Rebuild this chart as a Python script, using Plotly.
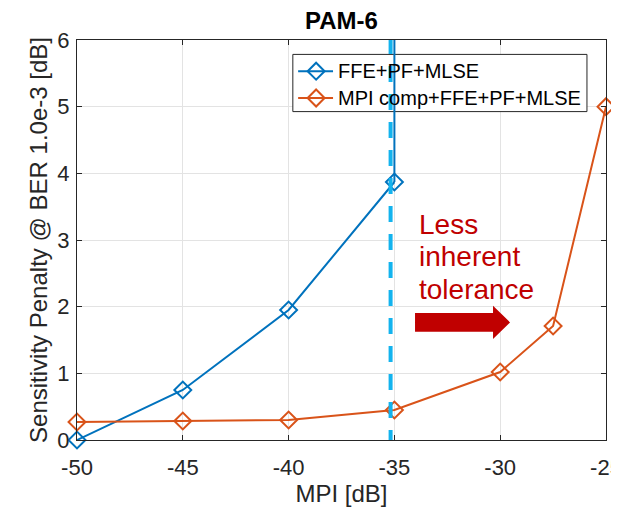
import plotly.graph_objects as go

# ---------------- data ----------------
X_TICKS = [-50, -45, -40, -35, -30, -25]
X_TICK_TEXT = ["-50", "-45", "-40", "-35", "-30", "-25"]
Y_TICKS = [0, 1, 2, 3, 4, 5, 6]
Y_TICK_TEXT = ["0", "1", "2", "3", "4", "5", "6"]

SERIES_NAMES = ["FFE+PF+MLSE", "MPI comp+FFE+PF+MLSE"]
MPI_FFE = [-50, -45, -40, -35]
PEN_FFE = [0.0, 0.75, 1.95, 3.87]
MPI_COMP = [-50, -45, -40, -35, -30, -27.5, -25]
PEN_COMP = [0.27, 0.285, 0.30, 0.45, 1.02, 1.71, 5.0]

THRESHOLD_MPI = -35          # blue limit line
DASH_MPI = -35.18            # cyan dashed marker line
Y_RANGE = [0, 6]
X_RANGE = [-50, -25]

TITLE = "PAM-6"
HIDDEN_TITLE = "[dB]"
ANNOT_LINES = ["Less", "inherent", "tolerance"]

# ---------------- style ----------------
BLUE = "#0072BD"
ORANGE = "#D95319"
CYAN = "#13B3EE"
DARKRED = "#C00000"
AX = "#262626"
GRID = "#E3E3E3"
FONT = "Liberation Sans, Arial, Helvetica, sans-serif"

fig = go.Figure()

fig.add_trace(go.Scatter(
    x=MPI_FFE, y=PEN_FFE, mode="lines+markers", name=SERIES_NAMES[0],
    line=dict(color=BLUE, width=2),
    marker=dict(symbol="diamond-open", size=13, color=BLUE, line=dict(width=2)),
    cliponaxis=False, showlegend=False))
fig.add_trace(go.Scatter(
    x=MPI_COMP, y=PEN_COMP, mode="lines+markers", name=SERIES_NAMES[1],
    line=dict(color=ORANGE, width=2),
    marker=dict(symbol="diamond-open", size=13, color=ORANGE, line=dict(width=2)),
    cliponaxis=False, showlegend=False))

shapes = []
annotations = []

# legend box
LX0, LX1, LY0, LY1 = 0.408, 0.964, 0.821, 0.964
shapes.append(dict(type="rect", xref="paper", yref="paper", x0=LX0, x1=LX1, y0=LY0, y1=LY1,
                   fillcolor="white", line=dict(color=AX, width=1), layer="above"))
rows = [(0.922, BLUE, SERIES_NAMES[0]), (0.855, ORANGE, SERIES_NAMES[1])]
for ry, col, name in rows:
    shapes.append(dict(type="line", xref="paper", yref="paper", x0=0.418, x1=0.484, y0=ry, y1=ry,
                       line=dict(color=col, width=2), layer="above"))
    shapes.append(dict(type="path", xref="paper", yref="paper", xsizemode="pixel", ysizemode="pixel",
                       xanchor=0.452, yanchor=ry,
                       path="M0,8.5 L8.5,0 L0,-8.5 L-8.5,0 Z",
                       line=dict(color=col, width=2), layer="above"))
    annotations.append(dict(xref="paper", yref="paper", x=0.489, y=ry, xanchor="left", yanchor="middle",
                            text=name, showarrow=False, font=dict(family=FONT, size=20, color="black")))

# vertical lines
shapes.append(dict(type="line", xref="x", yref="y", x0=THRESHOLD_MPI, x1=THRESHOLD_MPI,
                   y0=PEN_FFE[-1], y1=Y_RANGE[1], line=dict(color=BLUE, width=2), layer="above"))
shapes.append(dict(type="line", xref="x", yref="y", x0=DASH_MPI, x1=DASH_MPI,
                   y0=-0.09, y1=Y_RANGE[1], line=dict(color=CYAN, width=4, dash="16px,12px"),
                   layer="above"))

# arrow
shapes.append(dict(type="path", xref="paper", yref="paper", xsizemode="pixel", ysizemode="pixel",
                   xanchor=0.639, yanchor=0.294,
                   path="M0,-9.3 L78,-9.3 L78,-16.7 L95,0 L78,16.7 L78,9.3 L0,9.3 Z",
                   fillcolor=DARKRED, line=dict(color=DARKRED, width=0), layer="above"))

for txt, py in zip(ANNOT_LINES, [225, 257, 290]):
    annotations.append(dict(xref="paper", yref="paper", x=0.643, y=(440 - py) / 399.5,
                            xanchor="left", yanchor="middle", text=txt, showarrow=False,
                            font=dict(family=FONT, size=28, color=DARKRED)))

annotations.append(dict(xref="paper", yref="paper", x=0.5, y=(440 - 21) / 399.5,
                        xanchor="center", yanchor="middle", text="<b>%s</b>" % TITLE, showarrow=False,
                        font=dict(family=FONT, size=24, color="black")))
annotations.append(dict(xref="paper", yref="paper", x=(362.5 - 77) / 529, y=(440 + 2.0) / 399.5,
                        xanchor="center", yanchor="middle", text="<b>%s</b>" % HIDDEN_TITLE,
                        showarrow=False, font=dict(family=FONT, size=20, color="black")))

axis_common = dict(showline=True, linecolor=AX, linewidth=1, mirror="ticks", ticks="inside",
                   ticklen=5, tickcolor=AX, tickwidth=1, showgrid=True, gridcolor=GRID,
                   gridwidth=1, zeroline=False, automargin=False, ticklabeloverflow="allow",
                   tickfont=dict(family=FONT, size=22, color=AX))

# page body has an 8px offset; figure is sized so the plot area lands at x 77-606, y 40-440
fig.update_layout(
    width=611, height=500,
    margin=dict(l=69, r=13, t=32, b=68, pad=0),
    paper_bgcolor="white", plot_bgcolor="white",
    showlegend=False,
    shapes=shapes, annotations=annotations,
    xaxis=dict(range=X_RANGE, tickvals=X_TICKS, ticktext=X_TICK_TEXT, ticklabelstandoff=8,
               title=dict(text="MPI [dB]", font=dict(family=FONT, size=24, color=AX), standoff=5),
               **axis_common),
    yaxis=dict(range=Y_RANGE, tickvals=Y_TICKS, ticktext=Y_TICK_TEXT, ticklabelstandoff=2,
               title=dict(text="Sensitivity Penalty @ BER 1.0e-3 [dB]",
                          font=dict(family=FONT, size=24, color=AX), standoff=2),
               **axis_common),
)

fig.write_html("out.html")
